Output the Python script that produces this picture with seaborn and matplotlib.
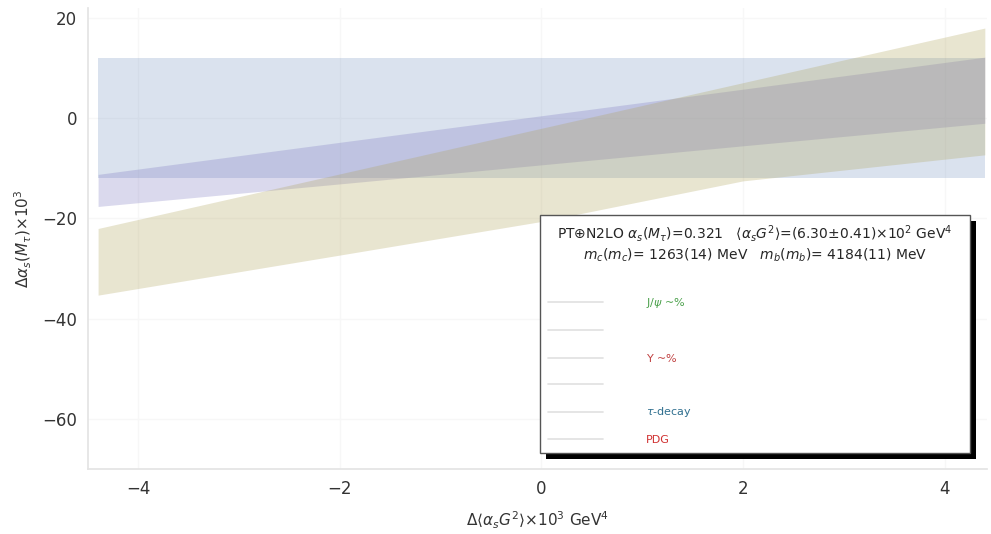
import matplotlib
matplotlib.use("Agg")
import numpy as np
import pandas as pd
import matplotlib.pyplot as plt
import seaborn as sns
from matplotlib.lines import Line2D
from matplotlib.patches import Rectangle

# Band edges sampled along the gluon-condensate axis
x_grid = [-4.4, -2.0, 0.0, 2.0, 4.4]

tau_lo = [-12.0, -12.0, -12.0, -12.0, -12.0]
tau_hi = [12.0, 12.0, 12.0, 12.0, 12.0]

ups_lo = [-17.6, -13.1, -9.3, -5.5, -1.0]
ups_hi = [-11.2, -4.8, 0.5, 5.8, 12.2]

psi_lo = [-35.3, -27.3, -20.6, -12.5, -7.3]
psi_hi = [-22.0, -11.1, -2.0, 7.1, 18.0]

x_ticks = [-4, -2, 0, 2, 4]
y_ticks = [-60, -40, -20, 0, 20]

legend_labels = [r"J/$\psi$ ~%", "", r"$\Upsilon$ ~%", "", r"$\tau$-decay", "PDG"]
legend_text_colors = ["#4aa04a", "#c04040", "#c04040", "#c04040", "#2f6f8f", "#d03030"]

header = (r"PT$\oplus$N2LO $\alpha_s(M_\tau)$=0.321   "
          r"$\langle\alpha_s G^2\rangle$=(6.30$\pm$0.41)$\times10^2$ GeV$^4$" "\n"
          r"$m_c(m_c)$= 1263(14) MeV   $m_b(m_b)$= 4184(11) MeV" "\n")

sns.set_theme(style="whitegrid")
plt.rcParams.update({
    "font.family": ["DejaVu Sans"],
    "axes.edgecolor": "#e4e4e4",
    "grid.color": "#f7f7f7",
    "xtick.color": "#333333",
    "ytick.color": "#333333",
    "axes.labelcolor": "#333333",
})

fig = plt.figure(figsize=(9.91, 5.34), dpi=100)
ax = fig.add_axes([0.0888, 0.1217, 0.907, 0.8633])
ax.spines["top"].set_visible(False)
ax.spines["right"].set_visible(False)


def draw_band(lo, hi, color, alpha):
    df = pd.DataFrame({"x": x_grid + x_grid, "y": lo + hi})
    sns.lineplot(data=df, x="x", y="y", ax=ax, estimator="mean",
                 errorbar=("pi", 100), color=color, linewidth=0,
                 err_kws={"alpha": alpha, "linewidth": 0})


draw_band(tau_lo, tau_hi, "#6f8fbf", 0.25)
draw_band(ups_lo, ups_hi, "#7873be", 0.27)
draw_band(psi_lo, psi_hi, "#aea257", 0.28)

ax.set_xlim(-4.5, 4.42)
ax.set_ylim(-70, 22)
ax.set_xticks(x_ticks)
ax.set_yticks(y_ticks)
ax.tick_params(labelsize=12, pad=2)
ax.set_xlabel(r"$\Delta\langle\alpha_s G^2\rangle$$\times10^3$ GeV$^4$",
              fontsize=11, labelpad=8)
ax.set_ylabel(r"$\Delta\alpha_s(M_\tau)$$\times10^3$", fontsize=11, labelpad=6)

handles = [Line2D([], [], color="#cccccc", lw=1.2, alpha=0.6) for _ in legend_labels]
leg = ax.legend(handles, legend_labels, title=header, title_fontsize=10,
                fontsize=8, loc="upper left",
                bbox_to_anchor=(0.503, 0.03, 0.478, 0.521), mode="expand",
                borderaxespad=0, handlelength=5.0, handletextpad=3.8,
                labelspacing=1.43, borderpad=0.7, fancybox=False,
                framealpha=1, edgecolor="#555555",
                labelcolor=legend_text_colors)
leg.get_title().set_multialignment("center")
leg.get_frame().set_linewidth(1.0)
leg.set_zorder(5)

# black drop shadow under the legend box
fig.canvas.draw()
bb = leg.get_window_extent()
ax.add_patch(Rectangle((bb.x0 + 6, bb.y0 - 6), bb.width, bb.height,
                       transform=None, facecolor="black", edgecolor="none",
                       zorder=4.9, clip_on=False))

fig.savefig("out.png", dpi=100)
